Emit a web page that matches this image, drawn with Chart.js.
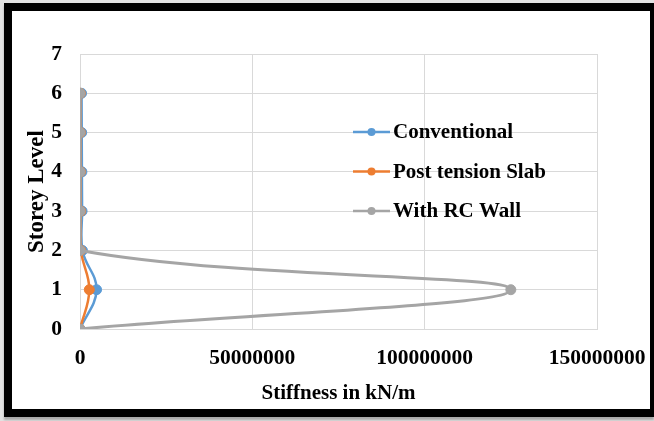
<!DOCTYPE html>
<html>
<head>
<meta charset="utf-8">
<script src="https://cdn.jsdelivr.net/npm/chart.js@4"></script>
<style>
  html, body { margin: 0; padding: 0; }
  body { width: 654px; height: 421px; background: #e2e2e2; position: relative; overflow: hidden; }
  .frame {
    position: absolute; left: 4px; top: 3px; right: 0; bottom: 4px;
    background: #fff;
    border: 8px solid #000; border-right-width: 4px;
    box-shadow: 0 3px 2px rgba(0, 0, 0, 0.25);
  }
  #stiffChart { position: absolute; left: 0; top: 0; }
</style>
</head>
<body>
<div class="frame"></div>
<canvas id="stiffChart" width="654" height="421"></canvas>
<script>
// storey levels and stiffness per storey (kN/m)
const storeys      = [0, 1, 2, 3, 4, 5, 6]
const conventional = [0, 4800000, 700000, 600000, 550000, 500000, 450000]
const postTension  = [0, 2700000, 250000, 200000, 150000, 120000, 100000]
const rcWall       = [0, 125000000, 50000, 40000, 30000, 20000, 10000]

const seriesNames = ['Conventional', 'Post tension Slab', 'With RC Wall']
const xTicks = [0, 50000000, 100000000, 150000000]
const yMax = 7

const BLUE   = '#5b9bd5'
const ORANGE = '#ed7d31'
const GREY   = '#a5a5a5'
const GRID   = '#d9d9d9'
const FONT   = '"Liberation Serif", "Times New Roman", serif'

const toPoints = vals => storeys.map((s, i) => ({ x: vals[i], y: s }))

function lineSet(label, vals, color, width, order) {
    return {
        label,
        data: toPoints(vals),
        showLine: true,
        borderColor: color,
        backgroundColor: color,
        borderWidth: width,
        pointRadius: 5,
        pointBorderWidth: 1,
        pointBackgroundColor: color,
        pointBorderColor: color,
        tension: 0.4,
        order,
    }
}

// legend sits inside the plot area, drawn over the grid
const insideLegend = {
    id: 'insideLegend',
    afterDatasetsDraw(chart, args, opts) {
        const { ctx, chartArea } = chart
        const x0 = chartArea.left + opts.left
        ctx.save()
        ctx.font = opts.font
        ctx.textBaseline = 'middle'
        ctx.textAlign = 'left'
        chart.data.datasets.forEach((ds, i) => {
            const y = chartArea.top + opts.top + i * opts.rowGap
            ctx.strokeStyle = ds.borderColor
            ctx.lineWidth = 2.5
            ctx.beginPath()
            ctx.moveTo(x0, y)
            ctx.lineTo(x0 + opts.lineLen, y)
            ctx.stroke()
            ctx.fillStyle = ds.borderColor
            ctx.beginPath()
            ctx.arc(x0 + opts.lineLen / 2, y, 4, 0, Math.PI * 2)
            ctx.fill()
            ctx.fillStyle = '#000'
            ctx.fillText(ds.label, x0 + opts.lineLen + 3, y + 1)
        })
        ctx.restore()
    }
}

new Chart(document.getElementById('stiffChart'), {
    type: 'scatter',
    data: {
        datasets: [
            lineSet(seriesNames[0], conventional, BLUE, 2.5, 2),
            lineSet(seriesNames[1], postTension, ORANGE, 2.5, 1),
            lineSet(seriesNames[2], rcWall, GREY, 3, 0),
        ]
    },
    options: {
        responsive: false,
        devicePixelRatio: 1,
        animation: false,
        layout: { padding: { top: 54, right: 57, bottom: 12, left: 0 } },
        scales: {
            x: {
                type: 'linear',
                min: xTicks[0],
                max: xTicks[xTicks.length - 1],
                afterFit: s => {
                    s.height = 80
                    s.paddingLeft = 0
                    s.paddingRight = 0
                },
                afterBuildTicks: s => { s.ticks = xTicks.map(v => ({ value: v })) },
                ticks: {
                    color: '#000',
                    font: { family: FONT, size: 21.5, weight: 'bold' },
                    padding: 17,
                    maxRotation: 0,
                    callback: v => String(v),
                },
                grid: { color: GRID, drawTicks: false },
                border: { color: GRID },
                title: {
                    display: true,
                    text: 'Stiffness in kN/m',
                    color: '#000',
                    font: { family: FONT, size: 21, weight: 'bold' },
                    padding: { top: 0, bottom: 3 },
                },
            },
            y: {
                type: 'linear',
                min: 0,
                max: yMax,
                afterFit: s => {
                    s.width = 80
                    s.paddingTop = 0
                    s.paddingBottom = 0
                },
                ticks: {
                    stepSize: 1,
                    color: '#000',
                    font: { family: FONT, size: 21.5, weight: 'bold' },
                    padding: 18,
                },
                grid: { color: GRID, drawTicks: false },
                border: { color: GRID },
                title: {
                    display: true,
                    text: 'Storey Level',
                    color: '#000',
                    font: { family: FONT, size: 23, weight: 'bold' },
                    padding: { top: 23, bottom: 0 },
                },
            },
        },
        plugins: {
            legend: { display: false },
            tooltip: { enabled: false },
            insideLegend: {
                left: 273,
                top: 78,
                rowGap: 39.5,
                lineLen: 37,
                font: 'bold 21px ' + FONT,
            },
        },
    },
    plugins: [insideLegend],
})
</script>
</body>
</html>
